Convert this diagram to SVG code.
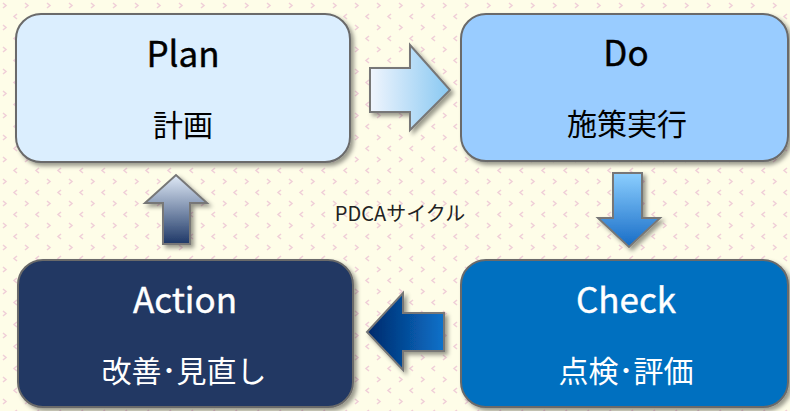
<svg xmlns="http://www.w3.org/2000/svg" width="790" height="411" viewBox="0 0 790 411">
<defs>
<pattern id="bgp" x="0" y="0" width="22" height="22" patternUnits="userSpaceOnUse">
<rect width="22" height="22" fill="#fefde8"/>
<path d="M3 3 L6 5.5 L3 8" fill="none" stroke="#f0cfd8" stroke-width="1.5"/>
<path d="M17 14 L14 16.5 L17 19" fill="none" stroke="#f0cfd8" stroke-width="1.5"/>
</pattern>
<filter id="sh" x="-10%" y="-10%" width="125%" height="130%">
<feDropShadow dx="3" dy="3" stdDeviation="2" flood-color="#000" flood-opacity="0.4"/>
</filter>
<linearGradient id="gR" x1="0" y1="0" x2="1" y2="0"><stop offset="0" stop-color="#f0f5fd"/><stop offset="1" stop-color="#88c8f2"/></linearGradient>
<linearGradient id="gD" x1="0" y1="0" x2="0" y2="1"><stop offset="0" stop-color="#8ccfff"/><stop offset="1" stop-color="#176cc6"/></linearGradient>
<linearGradient id="gL" x1="0" y1="0" x2="1" y2="0"><stop offset="0" stop-color="#00286a"/><stop offset="1" stop-color="#0b72ca"/></linearGradient>
<linearGradient id="gU" x1="0" y1="0" x2="0" y2="1"><stop offset="0" stop-color="#e0eaf7"/><stop offset="1" stop-color="#1d3766"/></linearGradient>
</defs>
<style>
.box{stroke:#6a6a6a;stroke-width:2;filter:url(#sh)}
.arr{stroke:#777;stroke-width:2;stroke-linejoin:miter;filter:url(#sh)}
.t{font-family:"Noto Sans CJK JP","Noto Sans",sans-serif;text-anchor:middle}
.h{font-size:35px;font-weight:400;stroke-width:0.4px}
.s{font-size:30px}
.dark{fill:#000}
.h.dark{stroke:#000}
.light{fill:#fff}
.h.light{stroke:#fff}
</style>
<rect width="790" height="411" fill="url(#bgp)"/>
<g id="connectors">
<path class="arr" fill="url(#gR)" d="M370 68 H410 V45 L450 90 L410 130 V112 H370 Z"/>
<path class="arr" fill="url(#gD)" d="M613 173 H642 V218 H660 L629 247 L598 218 H613 Z"/>
<path class="arr" fill="url(#gL)" d="M444 313 H403 V293 L367 332 L403 370 V351 H444 Z"/>
<path class="arr" fill="url(#gU)" d="M163 244 V203 H145 L176 175 L207 203 H190 V244 Z"/>
</g>
<g id="plan">
<rect class="box" x="16" y="14" width="334" height="148" rx="25" fill="#dbeefe"/>
<text class="t h dark" x="183" y="67">Plan</text>
<text class="t s dark" x="183" y="136">計画</text>
</g>
<g id="do">
<rect class="box" x="461" y="14" width="327" height="147" rx="25" fill="#99ccff"/>
<text class="t h dark" x="626" y="66">Do</text>
<text class="t s dark" x="627" y="135">施策実行</text>
</g>
<g id="check">
<rect class="box" x="461" y="260" width="327" height="147" rx="25" fill="#0070c0"/>
<text class="t h light" x="626" y="313">Check</text>
<text class="t s light" x="626" y="382">点検･評価</text>
</g>
<g id="action">
<rect class="box" x="18" y="260" width="335" height="147" rx="25" fill="#203864"/>
<text class="t h light" x="185" y="313">Action</text>
<text class="t s light" x="184" y="382">改善･見直し</text>
</g>
<g id="label">
<text class="t" x="400" y="221" font-size="20" fill="#222">PDCAサイクル</text>
</g>
</svg>
